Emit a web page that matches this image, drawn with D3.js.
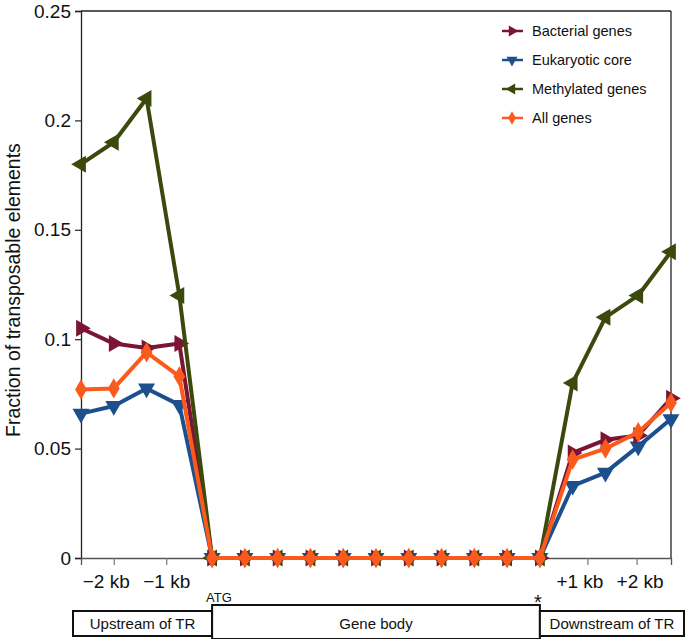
<!DOCTYPE html>
<html><head><meta charset="utf-8">
<script src="https://cdn.jsdelivr.net/npm/d3@7/dist/d3.min.js"></script>
<style>body{margin:0;background:#fff}svg{display:block;font-family:"Liberation Sans",Arial,sans-serif}</style>
</head><body><svg id="c" width="685" height="639"></svg>
<script>
const positions = d3.range(19);
const bacterial  = [0.105,0.098,0.096,0.098,0,0,0,0,0,0,0,0,0,0,0,0.048,0.054,0.056,0.073];
const eukaryotic = [0.066,0.0695,0.0775,0.070,0,0,0,0,0,0,0,0,0,0,0,0.033,0.039,0.051,0.0635];
const methylated = [0.18,0.19,0.21,0.12,0,0,0,0,0,0,0,0,0,0,0,0.08,0.11,0.12,0.14];
const allGenes   = [0.077,0.0775,0.094,0.083,0,0,0,0,0,0,0,0,0,0,0,0.045,0.050,0.0575,0.071];
const seriesNames = ["Bacterial genes","Eukaryotic core","Methylated genes","All genes"];
const yTicks = [0,0.05,0.1,0.15,0.2,0.25];
const xTickPos = [1,2.6,15.45,16.95];
const xTickLabels = ["\u22122 kb","\u22121 kb","+1 kb","+2 kb"];
const regionLabels = ["Upstream of TR","Gene body","Downstream of TR"];

const svg = d3.select("#c");
const L=81,R=671,T=11,B=558;
const x = d3.scaleLinear().domain([0,18]).range([L,R]);
const y = d3.scaleLinear().domain([0,0.25]).range([B,T]);

// frame
svg.append("line").attr("x1",L).attr("x2",R).attr("y1",T).attr("y2",T).attr("stroke","#222").attr("stroke-width",1.3);
svg.append("line").attr("x1",R).attr("x2",R).attr("y1",T).attr("y2",B).attr("stroke","#222").attr("stroke-width",1.3);

// y axis
const ya = svg.append("g").attr("transform",`translate(${L},0)`)
  .call(d3.axisLeft(y).tickValues(yTicks).tickFormat(d=>d===0?"0":String(d)).tickSize(6).tickPadding(4));
ya.select(".domain").attr("stroke","#222").attr("stroke-width",1.3);
ya.selectAll(".tick line").attr("stroke","#222").attr("stroke-width",1.2);
ya.selectAll("text").attr("font-size",19).attr("fill","#111").attr("font-family","Liberation Sans, Arial, sans-serif");

// x axis
const labelShift = [-8,0,-8,3];
const xa = svg.append("g").attr("transform",`translate(0,${B})`)
  .call(d3.axisBottom(x).tickValues(xTickPos).tickFormat((d,i)=>xTickLabels[i]).tickSizeOuter(0).tickSize(7).tickPadding(10));
xa.select(".domain").attr("stroke","#555").attr("stroke-width",1.3);
xa.selectAll(".tick line").attr("stroke","#777").attr("stroke-width",1.2);
xa.selectAll("text").attr("font-size",19).attr("fill","#111").attr("font-family","Liberation Sans, Arial, sans-serif")
  .attr("dx",(d,i)=>labelShift[i]);

// y label
svg.append("text").attr("transform","translate(20,290) rotate(-90)").attr("text-anchor","middle")
  .attr("font-size",19.5).attr("fill","#111").text("Fraction of transposable elements");

const colors = ["#7c1434","#1b4f8e","#3b4a0c","#fa5a1c"];
const allData = [bacterial,eukaryotic,methylated,allGenes];
const tri = d3.symbol().type(d3.symbolTriangle);
const dia = d3.symbol().type(d3.symbolDiamond);
const markerRot = [90,180,-90,0];

function drawMarker(g,k,px,py,scale){
  const p = g.append("path").attr("fill",colors[k]);
  if(k===3){ p.attr("d",dia.size(120*scale*scale)()).attr("transform",`translate(${px},${py})`);}
  else { p.attr("d",tri.size(125*scale*scale)()).attr("transform",`translate(${px},${py}) rotate(${markerRot[k]})`);}
}

const order = [1,0,2,3];
const line = d3.line().x((d,i)=>x(positions[i])).y(d=>y(d));
order.forEach(k=>{
  const g = svg.append("g");
  g.append("path").datum(allData[k]).attr("d",line).attr("fill","none")
    .attr("stroke",colors[k]).attr("stroke-width",4).attr("stroke-linejoin","round");
  allData[k].forEach((v,i)=>drawMarker(g,k,x(positions[i]),y(v),1));
});

// legend
seriesNames.forEach((n,k)=>{
  const ly = [31,60,89,118][k];
  const g = svg.append("g");
  g.append("line").attr("x1",502).attr("x2",523).attr("y1",ly).attr("y2",ly).attr("stroke",colors[k]).attr("stroke-width",2.5);
  drawMarker(g,k,512,ly,0.65);
  g.append("text").attr("x",532).attr("y",ly+5).attr("font-size",14.5).attr("fill","#111").text(n);
});

// region boxes
const bx = [[73,x(4),611,636],[x(4),x(14),605,639],[x(14),684,611,636]];
bx.forEach((b,i)=>{
  svg.append("rect").attr("x",b[0]).attr("y",b[2]).attr("width",b[1]-b[0]).attr("height",b[3]-b[2])
    .attr("fill","#fff").attr("stroke","#111").attr("stroke-width",2);
});
bx.forEach((b,i)=>{
  svg.append("text").attr("x",(b[0]+b[1])/2).attr("y",629).attr("text-anchor","middle")
    .attr("font-size",15).attr("fill","#111").text(regionLabels[i]);
});
svg.append("text").attr("x",x(4)-6).attr("y",602).attr("font-size",13).attr("fill","#111").text("ATG");
svg.append("text").attr("x",x(14)-2).attr("y",609).attr("text-anchor","middle").attr("font-size",20).attr("fill","#111").text("*");
</script></body></html>
